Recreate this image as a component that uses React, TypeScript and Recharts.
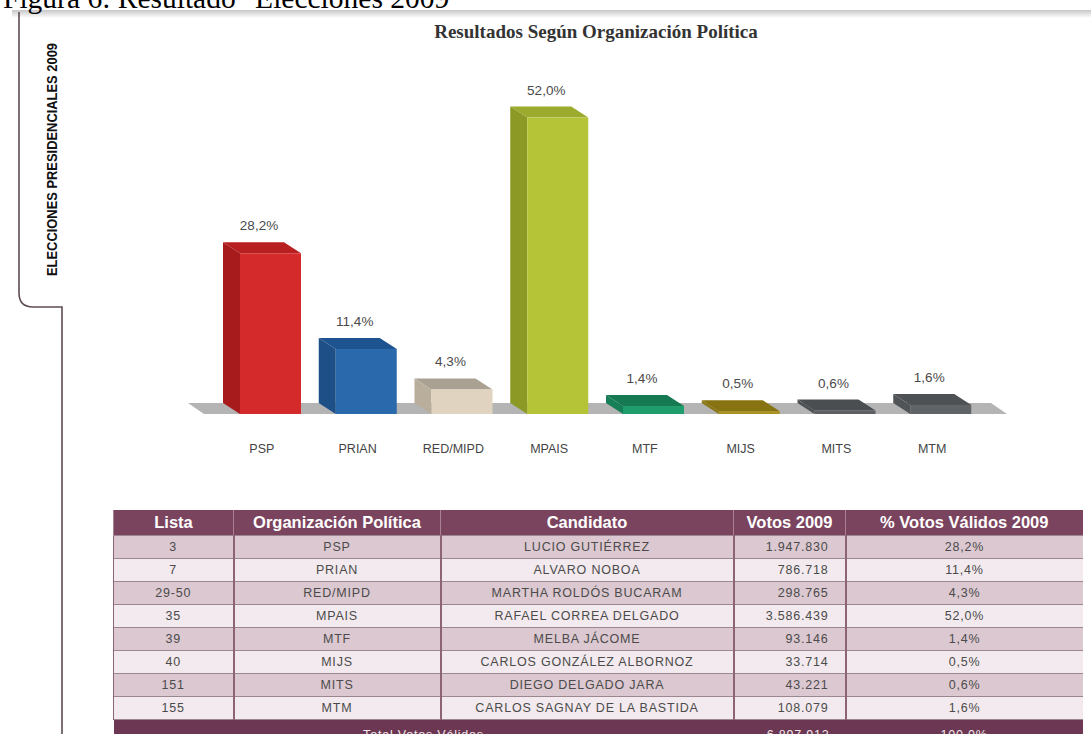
import React from "react";
import { Bar, BarChart, LabelList, XAxis, YAxis } from "recharts";

// chart categories and values (% votos válidos)
const parties = ["PSP", "PRIAN", "RED/MIPD", "MPAIS", "MTF", "MIJS", "MITS", "MTM"];
const pctValues = [28.2, 11.4, 4.3, 52.0, 1.4, 0.5, 0.6, 1.6];

// table columns
const lists = ["3", "7", "29-50", "35", "39", "40", "151", "155"];
const candidates = [
  "LUCIO GUTIÉRREZ",
  "ALVARO NOBOA",
  "MARTHA ROLDÓS BUCARAM",
  "RAFAEL CORREA DELGADO",
  "MELBA JÁCOME",
  "CARLOS GONZÁLEZ ALBORNOZ",
  "DIEGO DELGADO JARA",
  "CARLOS SAGNAY DE LA BASTIDA",
];
const votes = [1947830, 786718, 298765, 3586439, 93146, 33714, 43221, 108079];
const totalVotes = 6897912;
const totalPct = 100.0;

const FRONT = ["#d52a2b", "#2a69ac", "#e0d4c0", "#b5c437", "#1f9d6d", "#a99122", "#5c6063", "#606467"];
const SIDE = ["#a71b1d", "#1e4f87", "#b9ae9c", "#8c9a25", "#177f58", "#8a7614", "#4d5154", "#505457"];
const TOP = ["#b71f21", "#1d538f", "#aaa193", "#9cab2d", "#157a52", "#877311", "#4a4e51", "#4e5154"];

const chartData = parties.map((name, i) => ({ name, pct: pctValues[i] }));

const DEPTH_X = 17;
const DEPTH_Y = 11;

const fmtPct = (v: number) => v.toFixed(1).replace(".", ",") + "%";
const fmtVotes = (v: number) => String(v).replace(/\B(?=(\d{3})+(?!\d))/g, ".");

function Bar3D(props: any) {
  const { x, y, width, height, index } = props;
  const fx = x + DEPTH_X;
  const fw = width - DEPTH_X;
  return (
    <g>
      <polygon
        points={`${x},${y - DEPTH_Y} ${x + fw},${y - DEPTH_Y} ${x + width},${y} ${fx},${y}`}
        fill={TOP[index]}
      />
      <polygon
        points={`${x},${y - DEPTH_Y} ${fx},${y} ${fx},${y + height} ${x},${y + height - DEPTH_Y}`}
        fill={SIDE[index]}
      />
      <rect x={fx} y={y} width={fw} height={height} fill={FRONT[index]} />
    </g>
  );
}

function ValueLabel(props: any) {
  const { x, y, width, value } = props;
  return (
    <text
      x={x + width / 2 - 3}
      y={y - 23}
      textAnchor="middle"
      fontSize={13.5}
      fill="#4a4a4a"
      fontFamily="'Liberation Sans', Arial, sans-serif"
    >
      {fmtPct(value)}
    </text>
  );
}

function CategoryTick(props: any) {
  const { x, y, payload } = props;
  return (
    <text
      x={x}
      y={y + 39}
      textAnchor="middle"
      fontSize={12.5}
      fill="#444"
      fontFamily="'Liberation Sans', Arial, sans-serif"
    >
      {payload.value}
    </text>
  );
}

const cellBase: React.CSSProperties = {
  textAlign: "center",
  color: "#4b4b4b",
  fontSize: 12.5,
  letterSpacing: 0.8,
  height: 22,
  padding: 0,
  borderTop: "1px solid #9c8791",
  borderLeft: "2px solid #8d6475",
  whiteSpace: "nowrap",
};

const headCell: React.CSSProperties = {
  background: "#7b445e",
  color: "#fff",
  fontWeight: "bold",
  fontSize: 16.5,
  height: 25,
  padding: 0,
  borderLeft: "1px solid #a98193",
  textAlign: "center",
  whiteSpace: "nowrap",
};

const totalCell: React.CSSProperties = {
  ...cellBase,
  background: "#6c3752",
  color: "#f0e6ea",
  borderLeft: "none",
  height: 23,
  verticalAlign: "top",
  paddingTop: 8,
};

function ResultsTable() {
  const cols = [120, 207, 293, 112, 237];
  return (
    <table
      style={{
        position: "absolute",
        left: 113,
        top: 510,
        width: 969,
        borderCollapse: "collapse",
        tableLayout: "fixed",
        fontFamily: "'Liberation Sans', Arial, sans-serif",
      }}
    >
      <colgroup>
        {cols.map((w, i) => (
          <col key={i} style={{ width: w }} />
        ))}
      </colgroup>
      <thead>
        <tr>
          <th style={headCell}>Lista</th>
          <th style={headCell}>Organización Política</th>
          <th style={headCell}>Candidato</th>
          <th style={headCell}>Votos 2009</th>
          <th style={headCell}>% Votos Válidos 2009</th>
        </tr>
      </thead>
      <tbody>
        {parties.map((p, i) => {
          const bg = i % 2 === 0 ? "#dbc8d0" : "#f2eaee";
          const c = { ...cellBase, background: bg };
          return (
            <tr key={p}>
              <td style={{ ...c, borderLeft: "1px solid #8d6475" }}>{lists[i]}</td>
              <td style={c}>{p}</td>
              <td style={c}>{candidates[i]}</td>
              <td style={{ ...c, textAlign: "right", paddingRight: 16 }}>{fmtVotes(votes[i])}</td>
              <td style={c}>{fmtPct(pctValues[i])}</td>
            </tr>
          );
        })}
        <tr>
          <td colSpan={3} style={totalCell}>
            Total Votos Válidos
          </td>
          <td style={{ ...totalCell, textAlign: "right", paddingRight: 16 }}>{fmtVotes(totalVotes)}</td>
          <td style={totalCell}>{fmtPct(totalPct)}</td>
        </tr>
      </tbody>
    </table>
  );
}

export default function App() {
  return (
    <div
      style={{
        position: "fixed",
        left: 0,
        top: 0,
        width: 1091,
        height: 734,
        overflow: "hidden",
        background: "#fff",
      }}
    >
      {/* page decorations: caption, shadow, side bracket, floor */}
      <svg width={1091} height={734} style={{ position: "absolute", left: 0, top: 0 }}>
        <defs>
          <linearGradient id="pageShadow" x1="0" y1="0" x2="0" y2="1">
            <stop offset="0%" stopColor="#000" stopOpacity={0.22} />
            <stop offset="100%" stopColor="#000" stopOpacity={0} />
          </linearGradient>
        </defs>
        <text x={3} y={8} fontSize={29.5} fontFamily="'Liberation Serif', 'Times New Roman', serif" fill="#000">
          Figura 6: Resultado "Elecciones 2009"
        </text>
        <rect x={12} y={10} width={1079} height={8} fill="url(#pageShadow)" />
        <path
          d="M19 12 L19 293 Q19 307 33 307 L62 307 L62 734"
          fill="none"
          stroke="#5e4c54"
          strokeWidth={1.6}
        />
        <text
          transform="translate(57 276) rotate(-90)"
          fontSize={15}
          fontWeight="bold"
          fontFamily="'Liberation Sans Narrow', 'Liberation Sans', Arial, sans-serif"
          fill="#111"
          textLength={233}
          lengthAdjust="spacingAndGlyphs"
        >
          ELECCIONES PRESIDENCIALES 2009
        </text>
        <text
          x={596}
          y={38}
          textAnchor="middle"
          fontSize={19}
          fontWeight="bold"
          fontFamily="'Liberation Serif', 'Times New Roman', serif"
          fill="#333"
        >
          Resultados Según Organización Política
        </text>
        <polygon points="188,403 991,403 1007,414 204,414" fill="#b4b4b4" />
      </svg>

      <div style={{ position: "absolute", left: 0, top: 0 }}>
        <BarChart
          width={1091}
          height={460}
          data={chartData}
          margin={{ top: 72, right: 111, bottom: 6, left: 214 }}
        >
          <XAxis
            dataKey="name"
            height={40}
            axisLine={false}
            tickLine={false}
            tickSize={0}
            tickMargin={0}
            interval={0}
            tick={<CategoryTick />}
          />
          <YAxis hide width={0} domain={[0, 60]} />
          <Bar dataKey="pct" barSize={78} shape={<Bar3D />} isAnimationActive={false}>
            <LabelList dataKey="pct" content={<ValueLabel />} />
          </Bar>
        </BarChart>
      </div>

      <ResultsTable />
    </div>
  );
}
